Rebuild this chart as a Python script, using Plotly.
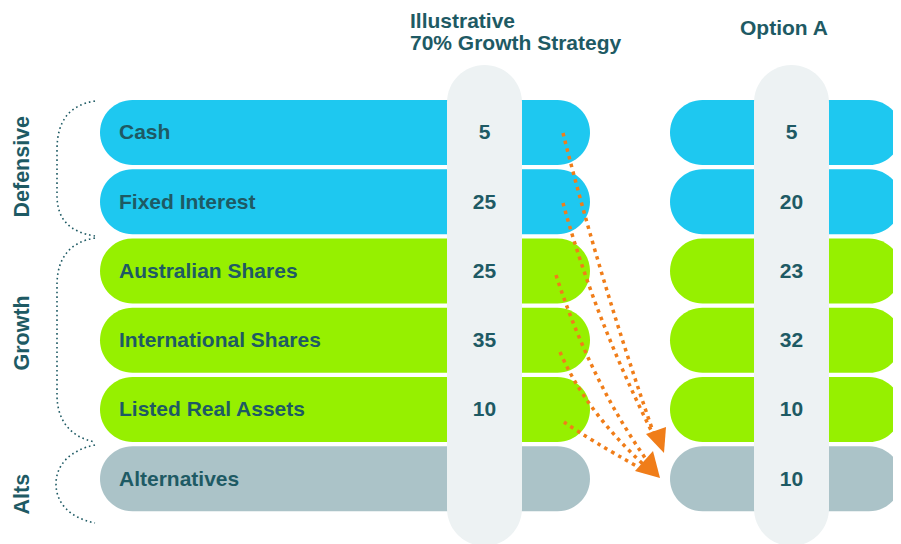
import plotly.graph_objects as go

# data
categories = ["Cash", "Fixed Interest", "Australian Shares", "International Shares",
              "Listed Real Assets", "Alternatives"]
strategy_values = [5, 25, 25, 35, 10, None]
option_values = [5, 20, 23, 32, 10, 10]
row_groups = ["Defensive", "Defensive", "Growth", "Growth", "Growth", "Alts"]
group_names = ["Defensive", "Growth", "Alts"]
strategy_title = ["Illustrative", "70% Growth Strategy"]
option_title = "Option A"

colors = {"Defensive": "#1EC8F0", "Growth": "#96F000", "Alts": "#ABC3C8"}
TEXT = "#1E5A64"
COL_BG = "#EDF2F3"
ORANGE = "#F07D19"
FONT = "Liberation Sans"

W, H = 901, 544
OFF = 8  # page body margin, figure starts 8px in
row_y = [132.5 + 69.25 * i for i in range(len(categories))]
text_y = [y + 1.5 for y in row_y]
half_h = 32.5
K = 0.5523


def hpill(x0, x1, y0, y1):
    r = (y1 - y0) / 2
    ym = (y0 + y1) / 2
    k = K * r
    return (f"M{x0+r},{y0} L{x1-r},{y0} C{x1-r+k},{y0} {x1},{ym-k} {x1},{ym} "
            f"C{x1},{ym+k} {x1-r+k},{y1} {x1-r},{y1} L{x0+r},{y1} "
            f"C{x0+r-k},{y1} {x0},{ym+k} {x0},{ym} C{x0},{ym-k} {x0+r-k},{y0} {x0+r},{y0} Z")


def vpill(x0, x1, y0, y1):
    r = (x1 - x0) / 2
    xm = (x0 + x1) / 2
    k = K * r
    return (f"M{x0},{y0+r} C{x0},{y0+r-k} {xm-k},{y0} {xm},{y0} "
            f"C{xm+k},{y0} {x1},{y0+r-k} {x1},{y0+r} L{x1},{y1-r} "
            f"C{x1},{y1-r+k} {xm+k},{y1} {xm},{y1} C{xm-k},{y1} {x0},{y1-r+k} {x0},{y1-r} Z")


shapes = []
for y, g in zip(row_y, row_groups):
    for x0, x1 in [(100, 590), (670, 901.5)]:
        shapes.append(dict(type="path", path=hpill(x0, x1, y - half_h, y + half_h),
                           fillcolor=colors[g], line=dict(width=0), layer="below"))

for x0, x1 in [(447, 522), (754, 829)]:
    shapes.append(dict(type="path", path=vpill(x0, x1, 65, 546),
                       fillcolor=COL_BG, line=dict(width=0), layer="below"))

# group braces
braces = [
    "M95,101 C70,105 57,120 57,150 L57,195 C57,220 70,232 95,236",
    "M95,238 C70,242 57,258 57,285 L57,395 C57,420 70,437 95,442",
    "M95,445 C70,450 56,465 56,484 C56,503 70,518 95,523",
]
for p in braces:
    shapes.append(dict(type="path", path=p, line=dict(color=TEXT, width=1.6, dash="1.6px,3px"),
                       layer="below"))

# orange arrows
arrows = [
    "M563,133 Q600,280 656,440",
    "M563,203 Q595,320 656,440",
    "M556,275 Q590,380 648,462",
    "M560,352 Q585,410 644,465",
    "M564,422 Q590,440 640,468",
]
for p in arrows:
    shapes.append(dict(type="path", path=p, line=dict(color=ORANGE, width=3.5, dash="3.5px,4.5px"),
                       layer="below"))
heads = ["M646,434 L666,427 L664,453 Z", "M635,471 L653,451 L660,478 Z"]
for p in heads:
    shapes.append(dict(type="path", path=p, fillcolor=ORANGE, line=dict(width=0), layer="below"))

fig = go.Figure()
fig.add_trace(go.Scatter(
    x=[119] * len(categories), y=text_y, mode="text",
    text=[f"<b>{c}</b>" for c in categories], textposition="middle right",
    textfont=dict(family=FONT, size=21, color=TEXT), hoverinfo="skip"))
fig.add_trace(go.Scatter(
    x=[484.5] * len(categories), y=text_y, mode="text",
    text=[f"<b>{v}</b>" if v is not None else "" for v in strategy_values],
    textposition="middle center",
    textfont=dict(family=FONT, size=21, color=TEXT), hoverinfo="skip"))
fig.add_trace(go.Scatter(
    x=[791.5] * len(categories), y=text_y, mode="text",
    text=[f"<b>{v}</b>" for v in option_values], textposition="middle center",
    textfont=dict(family=FONT, size=21, color=TEXT), hoverinfo="skip"))

annotations = [
    dict(x=408, y=20, text=f"<b>{strategy_title[0]}</b>", xanchor="left", yanchor="middle",
         showarrow=False, font=dict(family=FONT, size=21, color=TEXT)),
    dict(x=408, y=42, text=f"<b>{strategy_title[1]}</b>", xanchor="left", yanchor="middle",
         showarrow=False, font=dict(family=FONT, size=21, color=TEXT)),
    dict(x=783.5, y=27, text=f"<b>{option_title}</b>", xanchor="center", yanchor="middle",
         showarrow=False, font=dict(family=FONT, size=21, color=TEXT)),
]
group_y = {"Defensive": 167, "Growth": 333, "Alts": 494}
for g in group_names:
    annotations.append(dict(x=21.5, y=group_y[g], text=f"<b>{g}</b>", textangle=-90,
                            showarrow=False, xanchor="center", yanchor="middle",
                            font=dict(family=FONT, size=21.5, color=TEXT)))

# page shows only up to x = W - OFF, so the figure stops there
fig.update_layout(
    width=W - 2 * OFF, height=H - OFF, margin=dict(l=0, r=0, t=0, b=0),
    paper_bgcolor="white", plot_bgcolor="white", showlegend=False,
    xaxis=dict(range=[OFF, W - OFF], visible=False, fixedrange=True),
    yaxis=dict(range=[H, OFF], visible=False, fixedrange=True),
    shapes=shapes, annotations=annotations,
)
fig.write_html("out.html")
